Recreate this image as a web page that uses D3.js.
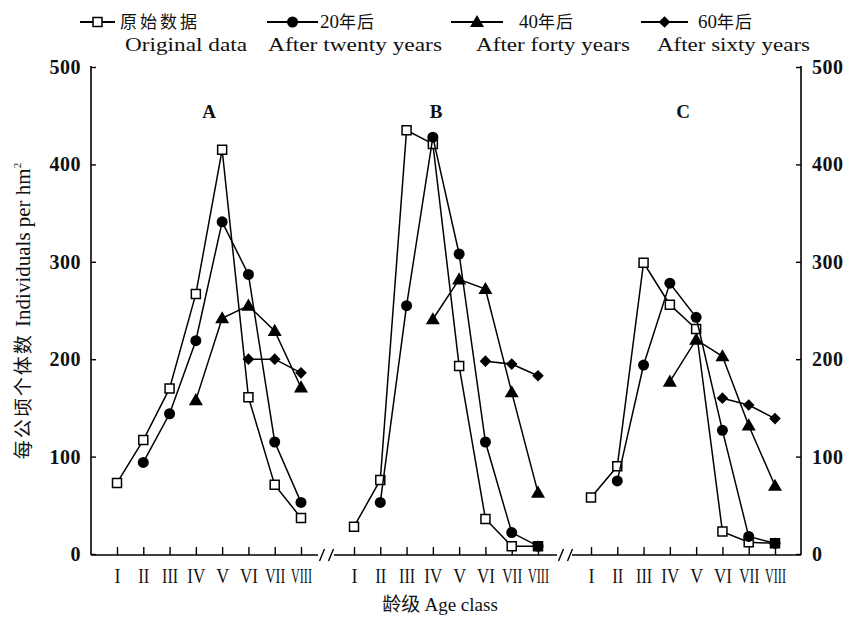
<!DOCTYPE html>
<html><head><meta charset="utf-8">
<script src="https://cdn.jsdelivr.net/npm/d3@7"></script>
<style>
html,body{margin:0;padding:0;background:#fff;}
svg{display:block;}
</style></head>
<body>
<script>
// ---------------- data ----------------
const classes = ["I","II","III","IV","V","VI","VII","VIII"];
const panels = ["A","B","C"];
const yTicks = [0,100,200,300,400,500];

// Panel A
const A_original = [73,117,170,267,415,161,71,37];
const A_after20  = [null,94,144,219,341,287,115,53];
const A_after40  = [null,null,null,158,242,255,229,171];
const A_after60  = [null,null,null,null,null,200,200,186];
// Panel B
const B_original = [28,76,435,421,193,36,8,8];
const B_after20  = [null,53,255,428,308,115,22,8];
const B_after40  = [null,null,null,241,282,272,166,63];
const B_after60  = [null,null,null,null,null,198,195,183];
// Panel C
const C_original = [58,90,299,256,231,23,12,11];
const C_after20  = [null,75,194,278,243,127,18,11];
const C_after40  = [null,null,null,177,220,203,132,70];
const C_after60  = [null,null,null,null,null,160,153,139];

const seriesNames = ["original","after20","after40","after60"];
const legendCN = ["原始数据","20年后","40年后","60年后"];
const legendEN = ["Original data","After twenty years","After forty years","After sixty years"];

const panelData = {
  A: [A_original, A_after20, A_after40, A_after60],
  B: [B_original, B_after20, B_after40, B_after60],
  C: [C_original, C_after20, C_after40, C_after60]
};

// ---------------- setup ----------------
const W = 848, H = 617;
const serif = "'Liberation Serif','Times New Roman',serif";
const cjk = "'Noto Sans CJK SC',sans-serif";
const svg = d3.select("body").append("svg").attr("width", W).attr("height", H);

const y = d3.scaleLinear().domain([0,500]).range([554,67]);
const xPanel = d3.scalePoint().domain(panels).range([117,591]);
const xClass = d3.scalePoint().domain(classes).range([0,184]);
const X = (p,c) => xPanel(p) + xClass(c);

// axes left / right
const leftX = 91, rightX = 801, axisY = 555;
const gl = svg.append("g").attr("transform",`translate(${leftX},0)`)
  .call(d3.axisLeft(y).tickValues(yTicks).tickSize(-5).tickSizeOuter(0).tickPadding(10));
const gr = svg.append("g").attr("transform",`translate(${rightX},0)`)
  .call(d3.axisRight(y).tickValues(yTicks).tickSize(-5).tickSizeOuter(0).tickPadding(11));
[gl,gr].forEach(g=>{
  g.select(".domain").attr("stroke","#000").attr("stroke-width",1.6).attr("d",`M0,${y(500)-1}V${axisY}`);
  g.selectAll(".tick line").attr("stroke","#000").attr("stroke-width",1.4);
  g.selectAll(".tick text").attr("font-family",serif).attr("font-size",20).attr("font-weight","bold")
    .attr("letter-spacing",0.5).attr("fill","#111");
});

// x axis segments with breaks
const segs = {A:[leftX,318], B:[334,557], C:[572,rightX]};
panels.forEach(p=>{
  svg.append("line").attr("x1",segs[p][0]).attr("x2",segs[p][1]).attr("y1",axisY).attr("y2",axisY)
    .attr("stroke","#000").attr("stroke-width",1.6);
  const sc = d3.scalePoint().domain(classes).range([X(p,"I"), X(p,"VIII")]);
  const g = svg.append("g").attr("transform",`translate(0,${axisY})`)
    .call(d3.axisBottom(sc).tickSize(-8).tickSizeOuter(0).tickPadding(14));
  g.select(".domain").remove();
  g.selectAll(".tick line").attr("stroke","#000").attr("stroke-width",1.4);
  g.selectAll(".tick text").attr("font-family",serif).attr("font-size",20).attr("fill","#111")
    .each(function(d){
      const len = {I:6,II:11,III:16,IV:18,V:13,VI:18,VII:20,VIII:21}[d];
      d3.select(this).attr("textLength",len).attr("lengthAdjust","spacingAndGlyphs");
    });
});
[322,331,561,570].forEach(bx=>{
  svg.append("line").attr("x1",bx-2.5).attr("x2",bx+2.5).attr("y1",axisY+6).attr("y2",axisY-6)
    .attr("stroke","#000").attr("stroke-width",1.4);
});

// ---------------- markers ----------------
function marker(sel, k){
  if (k===0){
    sel.append("path").attr("d",d3.symbol(d3.symbolSquare,81)())
      .attr("fill","#fff").attr("stroke","#000").attr("stroke-width",1.5);
  } else if (k===1){
    sel.append("circle").attr("r",5.5).attr("fill","#000");
  } else if (k===2){
    sel.append("path").attr("d",d3.symbol(d3.symbolTriangle,85)()).attr("transform","translate(0,1)").attr("fill","#000");
  } else {
    sel.append("path").attr("d",d3.symbol(d3.symbolSquare,68)()).attr("transform","rotate(45)").attr("fill","#000");
  }
}

const line = d3.line().defined(d=>d.v!=null).x(d=>d.x).y(d=>y(d.v));

panels.forEach(p=>{
  panelData[p].forEach((vals,k)=>{
    const pts = vals.map((v,i)=>({x:X(p,classes[i]), v}));
    svg.append("path").attr("d",line(pts)).attr("fill","none").attr("stroke","#000").attr("stroke-width",1.5);
    pts.filter(d=>d.v!=null).forEach(d=>{
      const g = svg.append("g").attr("transform",`translate(${d.x},${y(d.v)})`);
      marker(g,k);
    });
  });
});

// panel labels
const labelX = {A:209,B:436,C:683};
panels.forEach(p=>{
  svg.append("text").attr("x",labelX[p]).attr("y",118).attr("text-anchor","middle")
    .attr("font-family",serif).attr("font-weight","bold").attr("font-size",19).attr("fill","#111").text(p);
});

// ---------------- legend ----------------
const legSym = [[80,115],[267,318],[451,503],[641,688]];
const legCNx = [120,320,519,698];
const legENx = [125,268,476,657];
const legENw = [122,174,154,153];
seriesNames.forEach((s,k)=>{
  const [a,b] = legSym[k];
  svg.append("line").attr("x1",a).attr("x2",b).attr("y1",22).attr("y2",22).attr("stroke","#000").attr("stroke-width",2);
  const g = svg.append("g").attr("transform",`translate(${(a+b)/2},22)`);
  marker(g,k);
  const t = svg.append("text").attr("x",legCNx[k]).attr("y",28).attr("font-size",17).attr("fill","#111");
  const num = legendCN[k].replace(/[^0-9]/g,""), cn = legendCN[k].replace(/[0-9]/g,"");
  if (num) t.append("tspan").attr("font-family",serif).attr("font-size",19).text(num);
  t.append("tspan").attr("font-family",cjk).attr("letter-spacing",num?1:3).text(cn);
  svg.append("text").attr("x",legENx[k]).attr("y",51).attr("font-family",serif).attr("font-size",19).attr("fill","#111")
    .attr("textLength",legENw[k]).attr("lengthAdjust","spacingAndGlyphs").text(legendEN[k]);
});

// axis titles
const yt = svg.append("text").attr("transform","translate(30,311) rotate(-90)").attr("text-anchor","middle")
  .attr("fill","#111");
yt.append("tspan").attr("font-family",cjk).attr("font-size",19).attr("letter-spacing",2).text("每公顷个体数 ");
yt.append("tspan").attr("font-family",serif).attr("font-size",21).text("Individuals per hm");
yt.append("tspan").attr("font-family",serif).attr("font-size",11).attr("dy",-9).text("2");

const xt = svg.append("text").attr("x",440).attr("y",611).attr("text-anchor","middle").attr("font-size",19).attr("fill","#111");
xt.append("tspan").attr("font-family",cjk).text("龄级 ");
xt.append("tspan").attr("font-family",serif).text("Age class");
</script>
</body></html>
